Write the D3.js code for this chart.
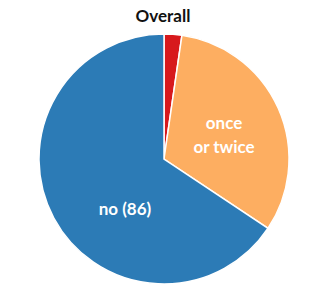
<!DOCTYPE html>
<html>
<head>
<meta charset="utf-8">
<title>Overall</title>
<script src="https://cdnjs.cloudflare.com/ajax/libs/d3/7.8.5/d3.min.js"></script>
<style>
    body { margin: 0; background: #fff; }
    svg { display: block; }
    text { font-family: Lato, "Open Sans", sans-serif; font-weight: bold; }
</style>
</head>
<body>
<svg id="chart" width="314" height="286"></svg>
<script>
// data
var categories = ["often", "once or twice", "no"];
var values = [3, 42, 86];
var labels = [[], ["once", "or twice"], ["no (86)"]];
var colors = ["#d7191c", "#fdae61", "#2c7bb6"];

var svg = d3.select("#chart");
var cx = 164, cy = 159, r = 125;

svg.append("text")
    .attr("x", 163).attr("y", 22)
    .attr("text-anchor", "middle")
    .attr("font-size", 17)
    .attr("fill", "#111")
    .text("Overall");

var pie = d3.pie().sort(null).value(function (d) { return d; });
var arc = d3.arc().innerRadius(0).outerRadius(r);
var arcs = pie(values);

var g = svg.append("g").attr("transform", "translate(" + cx + "," + cy + ")");

g.selectAll("path")
    .data(arcs)
    .enter()
    .append("path")
    .attr("d", arc)
    .attr("fill", function (d, i) { return colors[i]; })
    .attr("stroke", "#fff")
    .attr("stroke-width", 1.5);

// where inside each slice the label sits: fraction of the sweep, fraction of radius
var labelAt = [[0.5, 0.5], [0.52, 0.517], [0.40, 0.505]];
arcs.forEach(function (d, i) {
    if (!labels[i].length) return;
    var a = d.startAngle + (d.endAngle - d.startAngle) * labelAt[i][0];
    var rr = r * labelAt[i][1];
    var x = Math.sin(a) * rr, y = -Math.cos(a) * rr;
    var t = g.append("text")
        .attr("text-anchor", "middle")
        .attr("font-size", 17)
        .attr("fill", "#fff");
    labels[i].forEach(function (line, j) {
        t.append("tspan")
            .attr("x", x)
            .attr("y", y + (j - (labels[i].length - 1) / 2) * 24 + 6)
            .text(line);
    });
});
</script>
</body>
</html>
